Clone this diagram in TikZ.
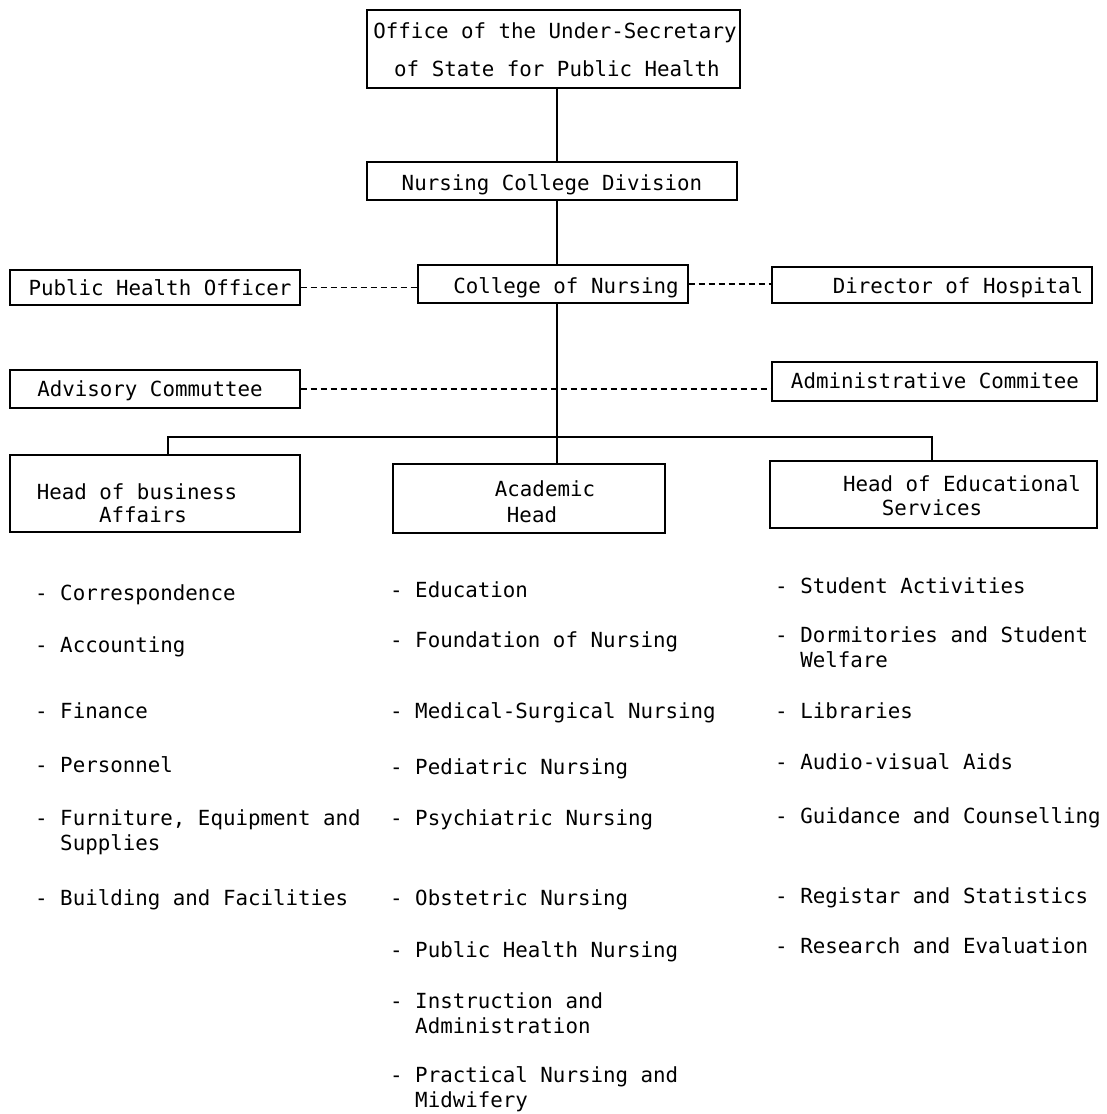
\documentclass[tikz,border=0pt]{standalone}
\usepackage{fontspec}
\newfontfamily\tw{DejaVu Sans Mono}
\begin{document}
\begin{tikzpicture}[x=1pt,y=-1pt,
  box/.style={draw, line width=1.1pt, inner sep=0pt},
  lbl/.style={font=\tw\fontsize{20.8}{25}\selectfont, inner sep=0pt, anchor=base, align=center},
  item/.style={font=\tw\fontsize{20.8}{25}\selectfont, inner sep=0pt, anchor=base west, align=left},
  conn/.style={line width=1.1pt},
  dconn/.style={line width=1.1pt, dash pattern=on 6pt off 4pt}]
\useasboundingbox[fill=white] (0,0) rectangle (1106,1114);

% boxes
\node[box, minimum width=373, minimum height=78] (top) at (553.5,49) {};
\node[box, minimum width=370, minimum height=38] (ncd) at (552,181) {};
\node[box, minimum width=290, minimum height=35] (pho) at (155,287.5) {};
\node[box, minimum width=270, minimum height=38] (con) at (553,284) {};
\node[box, minimum width=320, minimum height=36] (doh) at (932,285) {};
\node[box, minimum width=290, minimum height=38] (adv) at (155,389) {};
\node[box, minimum width=325, minimum height=39] (adm) at (934.5,381.5) {};
\node[box, minimum width=290, minimum height=77] (hba) at (155,493.5) {};
\node[box, minimum width=272, minimum height=69] (ah) at (529,498.5) {};
\node[box, minimum width=327, minimum height=67] (hes) at (933.5,494.5) {};

% box texts
\node[lbl] (t1) at (555,38) {Office of the Under-Secretary};
\node[lbl] (t2) at (557,76) {of State for Public Health};
\node[lbl] (t3) at (552,190) {Nursing College Division};
\node[lbl] (t4) at (160,295) {Public Health Officer};
\node[lbl] (t5) at (566,293) {College of Nursing};
\node[lbl] (t6) at (958,293) {Director of Hospital};
\node[lbl] (t7) at (150,396) {Advisory Commuttee};
\node[lbl] (t8) at (935,388) {Administrative Commitee};
\node[lbl] (t9) at (137,499) {Head of business};
\node[lbl] (t10) at (143,522) {Affairs};
\node[lbl] (t11) at (545,496) {Academic};
\node[lbl] (t12) at (532,522) {Head};
\node[lbl] (t13) at (962,491) {Head of Educational};
\node[lbl] (t14) at (932,515) {Services};

% connectors
\coordinate (spine) at (557,0);
\coordinate (busL) at (168,437);
\coordinate (busR) at (932,437);
\draw[conn] (top.south -| spine) -- (ncd.north -| spine);
\draw[conn] (ncd.south -| spine) -- (con.north -| spine);
\draw[conn] (con.south -| spine) -- (ah.north -| spine);
\draw[conn] (hba.north -| busL) -- (busL) -- (busR) -- (hes.north -| busR);
\draw[dconn] (pho.east) -- (pho.east -| con.west);
\draw[dconn] (con.east) -- (con.east -| doh.west);
\draw[dconn] (adv.east) -- (adv.east -| adm.west);

% left column (multi-line items: y is the baseline of the last line)
\node[item] (l1) at (35,600) {- Correspondence};
\node[item] (l2) at (35,652) {- Accounting};
\node[item] (l3) at (35,718) {- Finance};
\node[item] (l4) at (35,772) {- Personnel};
\node[item] (l5) at (35,850) {- Furniture, Equipment and\\\phantom{- }Supplies};
\node[item] (l6) at (35,905) {- Building and Facilities};

% middle column
\node[item] (m1) at (390,597) {- Education};
\node[item] (m2) at (390,647) {- Foundation of Nursing};
\node[item] (m3) at (390,718) {- Medical-Surgical Nursing};
\node[item] (m4) at (390,774) {- Pediatric Nursing};
\node[item] (m5) at (390,825) {- Psychiatric Nursing};
\node[item] (m6) at (390,905) {- Obstetric Nursing};
\node[item] (m7) at (390,957) {- Public Health Nursing};
\node[item] (m8) at (390,1033) {- Instruction and\\\phantom{- }Administration};
\node[item] (m9) at (390,1107) {- Practical Nursing and\\\phantom{- }Midwifery};

% right column
\node[item] (r1) at (775,593) {- Student Activities};
\node[item] (r2) at (775,667) {- Dormitories and Student\\\phantom{- }Welfare};
\node[item] (r3) at (775,718) {- Libraries};
\node[item] (r4) at (775,769) {- Audio-visual Aids};
\node[item] (r5) at (775,823) {- Guidance and Counselling};
\node[item] (r6) at (775,903) {- Registar and Statistics};
\node[item] (r7) at (775,953) {- Research and Evaluation};
\end{tikzpicture}
\end{document}
